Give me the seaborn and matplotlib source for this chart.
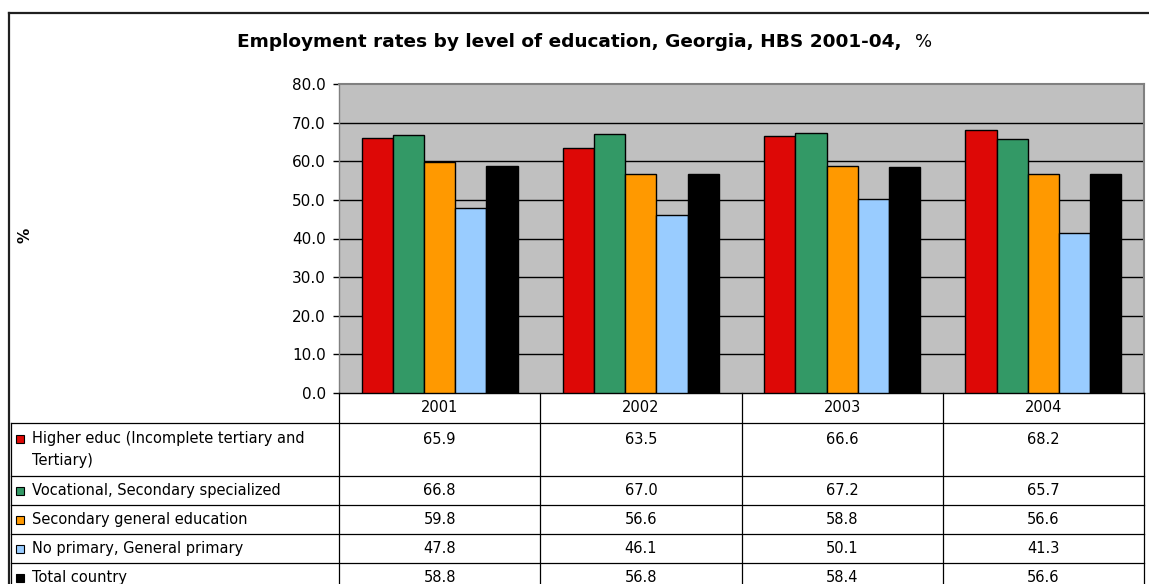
import matplotlib
matplotlib.use("Agg")
import matplotlib.pyplot as plt
from matplotlib.lines import Line2D
from matplotlib.patches import Rectangle
import matplotlib.transforms as mtransforms
import seaborn as sns
import pandas as pd

# ---- data ----
years = ["2001", "2002", "2003", "2004"]
series_names = [
    "Higher educ (Incomplete tertiary and\nTertiary)",
    "Vocational, Secondary specialized",
    "Secondary general education",
    "No primary, General primary",
    "Total country",
]
higher = [65.9, 63.5, 66.6, 68.2]
vocational = [66.8, 67.0, 67.2, 65.7]
secondary = [59.8, 56.6, 58.8, 56.6]
noprimary = [47.8, 46.1, 50.1, 41.3]
total = [58.8, 56.8, 58.4, 56.6]
colors = ["#DD0806", "#339966", "#FF9900", "#99CCFF", "#000000"]
yticks = [0, 10, 20, 30, 40, 50, 60, 70, 80]

values = [higher, vocational, secondary, noprimary, total]
rows = []
for name, vals in zip(series_names, values):
    for y, v in zip(years, vals):
        rows.append({"year": y, "series": name, "value": v})
df = pd.DataFrame(rows)

plt.rcParams["font.family"] = ["DejaVu Sans"]

W, H = 1149, 584
fig = plt.figure(figsize=(W / 100, H / 100), dpi=100)
fig.patch.set_facecolor("white")

def fx(x):
    return x / W

def fy(y):
    return 1 - y / H

ax_l, ax_r, ax_t, ax_b = 339, 1144, 84, 393
ax = fig.add_axes([fx(ax_l), fy(ax_b), fx(ax_r - ax_l), (ax_b - ax_t) / H])
ax.set_facecolor("#C0C0C0")

sns.barplot(data=df, x="year", y="value", hue="series", order=years,
            hue_order=series_names, palette=colors, saturation=1, width=0.776,
            edgecolor="black", linewidth=1.0, ax=ax, legend=False, zorder=3)

ax.set_ylim(0, 80)
ax.set_xlim(-0.5, len(years) - 0.5)
ax.set_yticks(yticks)
ax.set_yticklabels([f"{t:.1f}" for t in yticks], fontsize=11)
ax.set_xticks([])
ax.set_xlabel("")
ax.set_ylabel("")
ax.grid(False)
for t in yticks[1:-1]:
    ax.axhline(t, color="black", linewidth=1.0, zorder=1)
ax.tick_params(axis="y", direction="out", length=4.5, width=1, color="black", pad=5)
for s in ["top", "right"]:
    ax.spines[s].set_color("#808080")
    ax.spines[s].set_linewidth(1.5)
ax.spines["left"].set_color("#808080")
ax.spines["left"].set_linewidth(1.0)
ax.spines["bottom"].set_color("black")
ax.spines["bottom"].set_linewidth(1.0)

# ---- title & y label ----
fig.text(fx(237), fy(42), "Employment rates by level of education, Georgia, HBS 2001-04,",
         ha="left", va="center", fontsize=13.3, fontweight="bold")
fig.text(fx(915), fy(42), "%", ha="left", va="center", fontsize=13)
fig.text(fx(25), fy(235), "%", ha="center", va="center", rotation=90,
         fontsize=11, fontweight="bold")

# ---- outer frame ----
fig.add_artist(Line2D([fx(9), fx(W)], [fy(13), fy(13)], color="#202020", linewidth=1.6))
fig.add_artist(Line2D([fx(9), fx(9)], [fy(13), fy(H)], color="#202020", linewidth=1.6))

# ---- data table ----
blend = mtransforms.blended_transform_factory(ax.transData, fig.transFigure)
row_lines = [423, 476, 505, 534, 563, 592]
tbl_left = 11
line_kw = dict(color="black", linewidth=0.9)
for y in row_lines[:-1]:
    fig.add_artist(Line2D([fx(tbl_left), fx(ax_r)], [fy(y), fy(y)], **line_kw))
fig.add_artist(Line2D([fx(tbl_left), fx(tbl_left)], [fy(423), fy(H)], **line_kw))
for i in range(len(years) + 1):
    xb = i - 0.5
    fig.add_artist(Line2D([xb, xb], [fy(ax_b), fy(H)], transform=blend, **line_kw))

fs = 10.5
# header years
for i, y in enumerate(years):
    fig.text(i, fy(408), y, transform=blend, ha="center", va="center", fontsize=fs)

# rows
for r, (name, vals, col) in enumerate(zip(series_names, values, colors)):
    top, bot = row_lines[r], row_lines[r + 1]
    if "\n" in name:
        ty = top + 16
        lines = name.split("\n")
        fig.text(fx(32), fy(ty), lines[0], ha="left", va="center", fontsize=fs)
        fig.text(fx(32), fy(ty + 22), lines[1], ha="left", va="center", fontsize=fs)
    else:
        ty = (top + bot) / 2
        fig.text(fx(32), fy(ty), name, ha="left", va="center", fontsize=fs)
    fig.add_artist(Rectangle((fx(16), fy(ty + 4)), 8 / W, 8 / H, facecolor=col,
                             edgecolor="black", linewidth=0.8))
    for i, v in enumerate(vals):
        fig.text(i, fy(ty), f"{v:.1f}", transform=blend, ha="center", va="center",
                 fontsize=fs)

fig.savefig("out.png", dpi=100)
